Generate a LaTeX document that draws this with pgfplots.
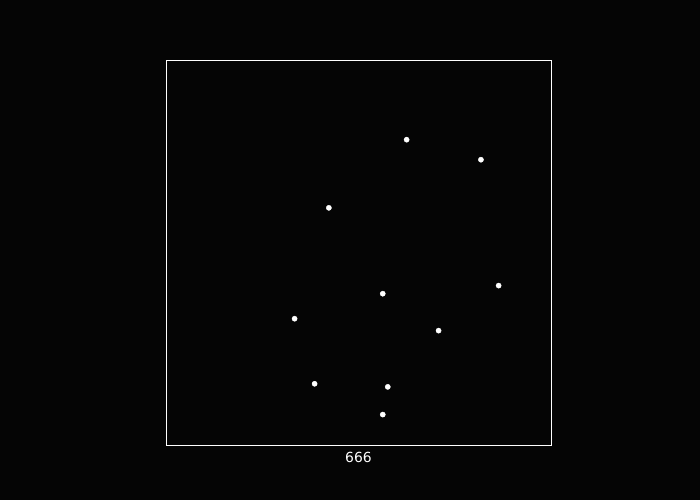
\documentclass[border=0pt]{standalone}
\usepackage{pgfplots}
\pgfplotsset{compat=1.18}
\usepackage{fontspec}
\setmainfont{DejaVu Sans}
\begin{document}
\begin{tikzpicture}[x=1pt,y=1pt]
\fill[black!98] (0,0) rectangle (700,500);
\begin{axis}[
  at={(166pt,55pt)}, anchor=south west,
  width=385pt, height=385pt, scale only axis,
  xmin=0, xmax=1, ymin=0, ymax=1,
  axis line style={white, line width=0.9pt},
  ticks=none,
  xlabel={666},
  xlabel style={at={(axis description cs:0.5,0)}, anchor=north, inner sep=0pt, yshift=-7pt, text=white, font=\fontsize{13.9}{16}\selectfont},
]
\addplot[only marks, mark=*, mark size=2.6pt, mark options={fill=white, draw=white}] coordinates {
(0.625,0.793) (0.818,0.741) (0.423,0.616) (0.864,0.414) (0.563,0.393)
(0.334,0.328) (0.708,0.297) (0.386,0.159) (0.576,0.151) (0.563,0.079)
};
\end{axis}
\end{tikzpicture}
\end{document}
